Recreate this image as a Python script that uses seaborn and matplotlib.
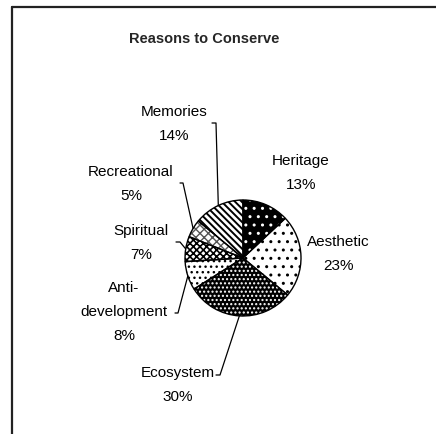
import numpy as np
import matplotlib
matplotlib.use("Agg")
import matplotlib.pyplot as plt
from matplotlib.patches import Wedge
import seaborn as sns

# data, clockwise from 12 o'clock
reasons = ['Heritage', 'Aesthetic', 'Ecosystem', 'Anti-\ndevelopment',
           'Spiritual', 'Recreational', 'Memories']
shares = [13, 23, 30, 8, 7, 5, 14]

# fill styles per slice: (face, hatch, hatch colour, hatch width)
styles = [('black', '..', 'white', 1.0),
          ('white', '..', 'black', 1.0),
          ('black', '....', 'white', 1.0),
          ('white', '...', 'black', 1.0),
          ('white', 'xxxxx', 'black', 1.2),
          ('white', 'xxxx', '#555555', 1.0),
          ('white', '\\' * 5, 'black', 1.4)]

# label block centres (pixels from top-left) and leader elbows
label_pos = [(301, 173), (338, 254), (178, 385), (124, 312),
             (141, 243), (131, 184), (174, 124)]
leaders = {2: [(216, 375), (220, 375)],
           3: [(175, 313), (178, 313)],
           4: [(176, 242), (180, 242)],
           5: [(180, 183), (183, 183)],
           6: [(212, 123), (216, 123)]}

W, H = 436, 434
sns.set_style("white")
plt.rcParams['font.family'] = ['Liberation Sans', 'DejaVu Sans']

fig = plt.figure(figsize=(W / 100, H / 100), dpi=100)
ax = fig.add_axes([0, 0, 1, 1])

cx, cy, r = 243, H - 258, 58
wedges, _ = ax.pie(shares, startangle=90, counterclock=False,
                   center=(cx, cy), radius=r,
                   wedgeprops=dict(linewidth=0))

for w, (face, hatch, hcol, hlw) in zip(wedges, styles):
    w.set_facecolor(face)
    w.set_edgecolor(face)
    with plt.rc_context({'hatch.linewidth': hlw}):
        hp = Wedge(w.center, w.r, w.theta1, w.theta2, fill=False,
                   hatch=hatch, edgecolor=hcol, linewidth=0)
    ax.add_patch(hp)
    ax.add_patch(Wedge(w.center, w.r, w.theta1, w.theta2, fill=False,
                       edgecolor='black', linewidth=1.0))

for i, (name, val) in enumerate(zip(reasons, shares)):
    x, y = label_pos[i]
    ax.text(x, H - y, f"{name}\n{val}%", ha='center', va='center',
            fontsize=11, linespacing=1.9, color='black')
    if i in leaders:
        w = wedges[i]
        mid = np.deg2rad((w.theta1 + w.theta2) / 2)
        ex, ey = cx + r * np.cos(mid), cy + r * np.sin(mid)
        pts = leaders[i]
        xs = [p[0] for p in pts] + [ex]
        ys = [H - p[1] for p in pts] + [ey]
        ax.plot(xs, ys, color='black', linewidth=0.9)

ax.text(204, H - 39, 'Reasons to Conserve', ha='center', va='center',
        fontsize=10.5, fontweight='bold')

# chart frame (only the top and left edges are inside the picture)
ax.plot([12, 12], [0, H - 7], color='#222222', linewidth=1.6)
ax.plot([12, W], [H - 7, H - 7], color='#222222', linewidth=1.6)

ax.set_xlim(0, W)
ax.set_ylim(0, H)
ax.set_aspect('equal')
ax.axis('off')

fig.savefig('out.png', dpi=100)
